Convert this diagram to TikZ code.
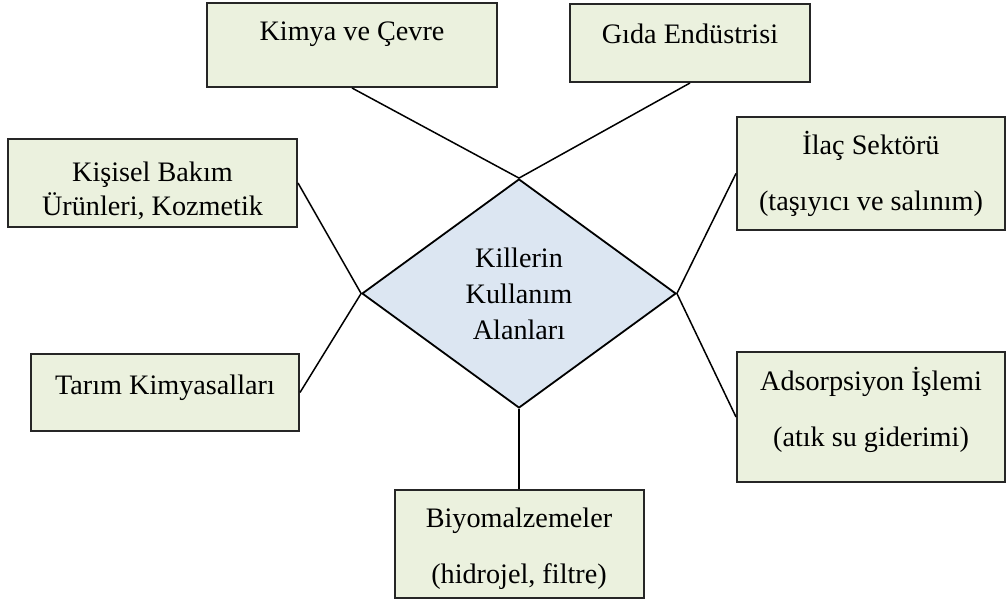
\documentclass[tikz,border=0pt]{standalone}
\usepackage{fontspec}
\setmainfont{Liberation Serif}
\usetikzlibrary{shapes.geometric}
\definecolor{boxgreen}{HTML}{EBF1DE}
\definecolor{hubblue}{HTML}{DCE6F2}

\begin{document}
\begin{tikzpicture}[x=0.5pt, y=-0.5pt,
  every node/.style={font=\fontsize{14.1}{17}\selectfont, inner sep=0pt},
  box/.style={draw=black!85, line width=1pt, fill=boxgreen, align=center},
  hub/.style={draw=black, line width=0.9pt, fill=hubblue, shape=diamond, align=center},
  link/.style={line width=0.75pt}]
\useasboundingbox (0,0) rectangle (1007,603);
\node[hub,minimum width=157pt,minimum height=114.5pt] (hub) at (519,293.5) {Killerin\\[1pt]Kullanım\\[1pt]Alanları};
\node[box,minimum width=145pt,minimum height=42pt,text height=10pt,text depth=14.5pt] (kimya) at (352,45) {Kimya ve Çevre};
\node[box,minimum width=120pt,minimum height=39pt,text height=10pt,text depth=9pt] (gida) at (690,43) {Gıda Endüstrisi};
\node[box,minimum width=144.5pt,minimum height=44pt] (kisisel) at (152.5,183) {\rule{0pt}{17.6pt}Kişisel Bakım\\Ürünleri, Kozmetik};
\node[box,minimum width=134pt,minimum height=38.5pt,text height=10pt,text depth=7.5pt] (tarim) at (165,392.5) {Tarım Kimyasalları};
\node[box,minimum width=134pt,minimum height=56.5pt] (ilac) at (871,173.5) {İlaç Sektörü\\[11pt](taşıyıcı ve salınım)};
\node[box,minimum width=134pt,minimum height=65pt] (adsorpsiyon) at (871,417) {Adsorpsiyon İşlemi\\[11pt](atık su giderimi)\rule[-10pt]{0pt}{10pt}};
\node[box,minimum width=124.5pt,minimum height=54pt] (biyo) at (519,544) {\rule{0pt}{14.6pt}Biyomalzemeler\\[11pt](hidrojel, filtre)};
\draw[link] (kimya.south) -- (hub.north);
\draw[link] (gida.south) -- (hub.north);
\draw[link] (kisisel.east) -- (hub.west);
\draw[link] (tarim.east) -- (hub.west);
\draw[link] (ilac.west) -- (hub.east);
\draw[link] (adsorpsiyon.west) -- (hub.east);
\draw[link] (biyo.north) -- (hub.south);
\end{tikzpicture}
\end{document}
